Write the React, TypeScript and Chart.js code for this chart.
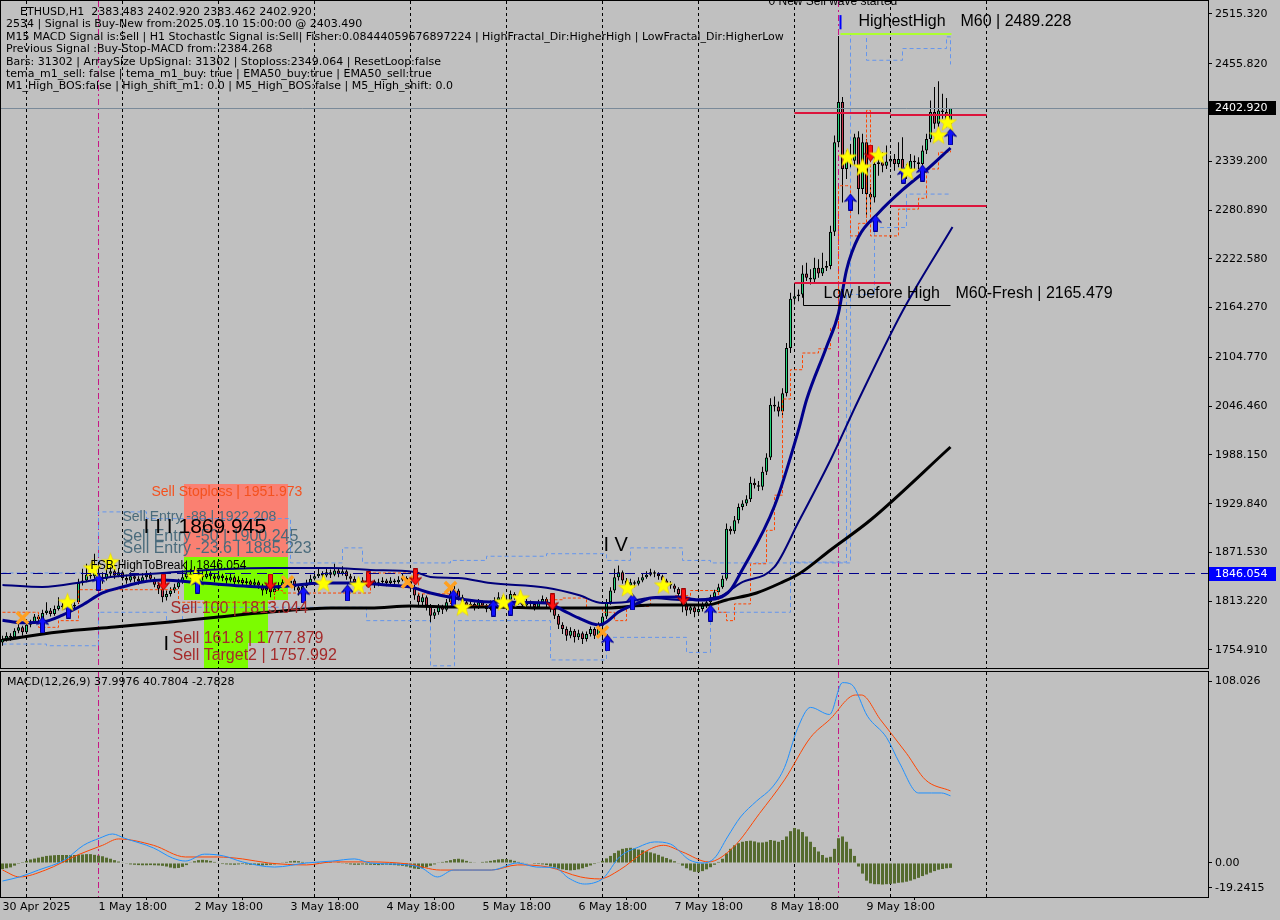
import React, { useEffect, useRef } from 'react';
import { Chart, registerables } from 'chart.js';

Chart.register(...registerables);

// ---------------- axis / tick data ----------------
const xTickIndex = [0, 24, 48, 72, 96, 120, 144, 168, 192, 216];
const xTickLabels = ['30 Apr 2025', '1 May 18:00', '2 May 18:00', '3 May 18:00', '4 May 18:00', '5 May 18:00', '6 May 18:00', '7 May 18:00', '8 May 18:00', '9 May 18:00'];
const priceTicks = [2515.32, 2455.82, 2397.51, 2339.2, 2280.89, 2222.58, 2164.27, 2104.77, 2046.46, 1988.15, 1929.84, 1871.53, 1813.22, 1754.91];
const macdTickValues = [102.93, 0, -14.15];
const macdTickLabels = ['108.026', '0.00', '-19.2415'];
const daySeparators = [6, 30, 54, 78, 102, 126, 150, 174, 198, 222, 246];
const markedBars = [24, 209];

const PRICE_MIN = 1733.38;
const PRICE_MAX = 2530.86;
const MACD_MIN = -19.2415;
const MACD_MAX = 108.026;
const X_MIN = -0.375;
const X_MAX = 301.375;

// ---------------- candles (H1, from 30 Apr 18:00) ----------------
const opens = [
  1764, 1768, 1772, 1770, 1778, 1782, 1776, 1785, 1788, 1795,
  1792, 1799, 1802, 1798, 1804, 1808, 1806, 1810, 1807, 1812,
  1835, 1838, 1845, 1843, 1847, 1842, 1840, 1846, 1849, 1844,
  1848, 1841, 1838, 1843, 1840, 1837, 1842, 1845, 1840, 1833,
  1828, 1818, 1822, 1826, 1830, 1836, 1842, 1846, 1844, 1848,
  1845, 1842, 1846, 1843, 1840, 1844, 1841, 1838, 1842, 1836,
  1839, 1835, 1837, 1833, 1836, 1832, 1826, 1829, 1824, 1828,
  1832, 1836, 1834, 1838, 1830, 1826, 1831, 1835, 1840, 1843,
  1846, 1844, 1848, 1845, 1850, 1846, 1849, 1843, 1840, 1836,
  1834, 1838, 1835, 1837, 1833, 1836, 1838, 1835, 1838, 1836,
  1839, 1841, 1837, 1830, 1820, 1812, 1818, 1808, 1796, 1800,
  1807, 1803, 1812, 1822, 1826, 1818, 1812, 1808, 1810, 1806,
  1812, 1808, 1804, 1810, 1814, 1818, 1812, 1815, 1822, 1818,
  1812, 1808, 1812, 1810, 1806, 1812, 1816, 1810, 1804, 1796,
  1785, 1780, 1772, 1778, 1770, 1775, 1768, 1774, 1780, 1772,
  1784, 1795, 1812, 1826, 1842, 1848, 1838, 1832, 1836, 1834,
  1838, 1842, 1845, 1848, 1846, 1843, 1838, 1834, 1832, 1828,
  1822, 1808, 1802, 1806, 1800, 1804, 1808, 1812, 1818, 1824,
  1830, 1840, 1900, 1897, 1910, 1926, 1930, 1935, 1955, 1952,
  1950, 1968, 1985, 2048, 2046, 2040, 2062, 2116, 2175, 2178,
  2180, 2205, 2200, 2198, 2212, 2205, 2212, 2214, 2255, 2362,
  2410, 2330, 2345, 2340, 2368, 2306, 2362, 2300, 2296, 2336,
  2338, 2334, 2339, 2342, 2336, 2342, 2322, 2330, 2340, 2338,
  2336, 2352, 2366, 2398, 2384, 2400, 2398, 2383.483,
];
const highs = [
  1772, 1776, 1775, 1781, 1786, 1784, 1788, 1791, 1798, 1797,
  1803, 1812, 1805, 1808, 1818, 1811, 1814, 1813, 1812, 1840,
  1852, 1858, 1856, 1870, 1860, 1848, 1852, 1856, 1852, 1853,
  1850, 1845, 1848, 1846, 1843, 1847, 1850, 1848, 1842, 1836,
  1832, 1826, 1830, 1834, 1840, 1850, 1862, 1852, 1855, 1851,
  1849, 1850, 1849, 1846, 1848, 1846, 1844, 1846, 1844, 1843,
  1841, 1841, 1839, 1840, 1838, 1834, 1833, 1831, 1832, 1836,
  1840, 1839, 1842, 1840, 1833, 1835, 1839, 1845, 1849, 1852,
  1849, 1854, 1851, 1858, 1853, 1855, 1851, 1846, 1843, 1839,
  1842, 1840, 1841, 1839, 1840, 1842, 1840, 1842, 1840, 1843,
  1846, 1843, 1839, 1833, 1823, 1822, 1820, 1810, 1804, 1810,
  1809, 1816, 1826, 1832, 1828, 1821, 1815, 1814, 1812, 1816,
  1814, 1810, 1814, 1818, 1824, 1820, 1819, 1826, 1824, 1820,
  1814, 1816, 1814, 1812, 1815, 1820, 1818, 1812, 1806, 1798,
  1788, 1783, 1782, 1780, 1779, 1777, 1777, 1783, 1782, 1788,
  1799, 1816, 1830, 1852, 1856, 1850, 1841, 1840, 1838, 1842,
  1846, 1849, 1852, 1850, 1848, 1845, 1840, 1837, 1834, 1830,
  1825, 1812, 1810, 1808, 1808, 1812, 1815, 1821, 1827, 1834,
  1844, 1906, 1903, 1915, 1930, 1934, 1940, 1962, 1960, 1957,
  1974, 1990, 2056, 2058, 2052, 2068, 2122, 2182, 2190, 2186,
  2215, 2218, 2210, 2224, 2222, 2230, 2220, 2262, 2370, 2489,
  2416, 2352, 2360, 2372, 2375, 2372, 2366, 2312, 2348, 2345,
  2350, 2358, 2346, 2348, 2362, 2368, 2336, 2348, 2346, 2344,
  2358, 2372, 2412, 2428, 2435, 2420, 2415, 2402.92,
];
const lows = [
  1760, 1765, 1766, 1768, 1775, 1772, 1774, 1782, 1786, 1789,
  1790, 1797, 1795, 1796, 1802, 1803, 1804, 1804, 1805, 1810,
  1832, 1836, 1840, 1840, 1838, 1834, 1838, 1843, 1840, 1842,
  1838, 1834, 1836, 1836, 1833, 1835, 1839, 1837, 1830, 1822,
  1812, 1814, 1819, 1823, 1828, 1834, 1840, 1840, 1842, 1840,
  1838, 1840, 1839, 1836, 1838, 1837, 1834, 1836, 1832, 1834,
  1831, 1833, 1829, 1831, 1828, 1820, 1822, 1818, 1821, 1826,
  1830, 1830, 1832, 1826, 1820, 1824, 1829, 1833, 1838, 1841,
  1840, 1842, 1841, 1843, 1842, 1844, 1839, 1836, 1832, 1830,
  1832, 1831, 1833, 1829, 1831, 1834, 1831, 1833, 1832, 1834,
  1837, 1833, 1826, 1815, 1806, 1808, 1802, 1788, 1792, 1797,
  1798, 1801, 1810, 1820, 1814, 1808, 1804, 1806, 1802, 1804,
  1805, 1800, 1802, 1808, 1812, 1809, 1810, 1813, 1815, 1809,
  1804, 1806, 1806, 1802, 1804, 1810, 1806, 1800, 1792, 1780,
  1774, 1766, 1769, 1764, 1767, 1762, 1765, 1771, 1768, 1770,
  1770, 1792, 1809, 1823, 1838, 1834, 1828, 1830, 1830, 1832,
  1836, 1840, 1843, 1842, 1839, 1834, 1830, 1828, 1824, 1816,
  1800, 1796, 1798, 1794, 1797, 1801, 1805, 1809, 1815, 1821,
  1828, 1838, 1893, 1894, 1906, 1922, 1927, 1932, 1948, 1945,
  1946, 1964, 1982, 2040, 2034, 2036, 2058, 2110, 2168, 2172,
  2176, 2196, 2192, 2195, 2200, 2202, 2208, 2210, 2250, 2356,
  2290, 2318, 2332, 2335, 2276, 2300, 2272, 2280, 2290, 2322,
  2326, 2330, 2332, 2328, 2332, 2316, 2318, 2326, 2330, 2330,
  2332, 2348, 2362, 2378, 2380, 2390, 2380, 2383.462,
];
const closes = [
  1768, 1772, 1770, 1778, 1782, 1776, 1785, 1788, 1795, 1792,
  1799, 1802, 1798, 1804, 1808, 1806, 1810, 1807, 1809, 1835,
  1838, 1845, 1843, 1847, 1842, 1840, 1846, 1849, 1844, 1848,
  1841, 1838, 1843, 1840, 1837, 1842, 1845, 1840, 1833, 1828,
  1818, 1822, 1826, 1830, 1836, 1842, 1846, 1844, 1848, 1845,
  1842, 1846, 1843, 1840, 1844, 1841, 1838, 1842, 1836, 1839,
  1835, 1837, 1833, 1836, 1832, 1826, 1829, 1824, 1828, 1832,
  1836, 1834, 1838, 1830, 1826, 1831, 1835, 1840, 1843, 1846,
  1844, 1848, 1845, 1850, 1846, 1849, 1843, 1840, 1836, 1834,
  1838, 1835, 1837, 1833, 1836, 1838, 1835, 1838, 1836, 1839,
  1841, 1837, 1830, 1820, 1812, 1818, 1808, 1796, 1800, 1807,
  1803, 1812, 1822, 1826, 1818, 1812, 1808, 1810, 1806, 1812,
  1808, 1804, 1810, 1814, 1818, 1812, 1815, 1822, 1818, 1812,
  1808, 1812, 1810, 1806, 1812, 1816, 1810, 1804, 1796, 1785,
  1780, 1772, 1778, 1770, 1775, 1768, 1774, 1780, 1772, 1784,
  1795, 1812, 1826, 1842, 1848, 1838, 1832, 1836, 1834, 1838,
  1842, 1845, 1848, 1846, 1843, 1838, 1834, 1832, 1828, 1822,
  1808, 1802, 1806, 1800, 1804, 1808, 1812, 1818, 1824, 1830,
  1840, 1900, 1897, 1910, 1926, 1930, 1935, 1955, 1952, 1950,
  1968, 1985, 2048, 2046, 2040, 2062, 2116, 2175, 2178, 2180,
  2205, 2200, 2198, 2212, 2205, 2212, 2214, 2255, 2362, 2410,
  2330, 2345, 2340, 2368, 2306, 2362, 2300, 2296, 2336, 2338,
  2334, 2339, 2342, 2336, 2342, 2322, 2330, 2340, 2338, 2336,
  2352, 2366, 2398, 2384, 2400, 2398, 2383.5, 2402.92,
];

// ---------------- overlay indicator lines [bar index, price] ----------------
const emaFast = [
  [0, 1790.5], [5, 1787.5], [10, 1788.4], [15, 1796.7], [20, 1808.7], [25, 1823.1], [30, 1830.2], [35, 1836.2],
  [40, 1838.6], [50, 1835], [67, 1830.2], [80, 1835], [88, 1835], [96, 1832.6], [102, 1830.2], [107, 1823.1],
  [113, 1817.1], [122, 1812.3], [136, 1811.1], [140, 1802.7], [144, 1793.2], [149, 1784.8], [151, 1788.4],
  [154, 1800.3], [159, 1811.1], [162, 1817.1], [169, 1818.3], [174, 1814.7], [179, 1817.1], [182, 1826.7],
  [184.5, 1847], [193, 1927.1], [199, 2018], [201, 2053.8], [206, 2117.2], [209, 2157.8], [211, 2209.2],
  [214, 2248.7], [219, 2277.4], [225, 2304.9], [231, 2328.8], [237, 2355.1],
];
const emaMid = [
  [0, 1832.6], [10, 1830.2], [20, 1836.2], [27, 1842.2], [40, 1847], [56, 1851.8], [67, 1853], [82, 1853],
  [92, 1850.6], [103, 1848.2], [107, 1842.2], [114, 1841], [122, 1835], [136, 1829.4], [144, 1820.7],
  [150, 1811.1], [156, 1812.3], [162, 1817.1], [170, 1814.7], [179, 1818.3], [184.5, 1835], [193, 1854.2],
  [199, 1907.9], [207, 1982.1], [214, 2053.8], [225, 2160], [237.5, 2260.7],
];
const maSlow = [
  [0, 1766.9], [14, 1776.4], [28, 1782.4], [42, 1788.4], [54, 1794.4], [67, 1800.3], [82, 1805.1], [92, 1805.1],
  [102, 1807.5], [113, 1806.3], [122, 1806.3], [136, 1805.1], [151, 1805.1], [162, 1808.7], [176, 1808.7],
  [181, 1814.7], [188.5, 1823.1], [194.5, 1835], [199.5, 1847], [207, 1874.5], [217, 1910.3], [237, 1997.6],
];
const orangeTrail = [
  [0, 1800], [8, 1800], [9, 1782], [14, 1790], [19, 1827], [40, 1827], [44, 1812], [68, 1826], [70, 1823],
  [92, 1847], [100, 1847], [104, 1822], [112, 1808], [122, 1812], [132, 1812], [136, 1815], [140, 1817],
  [146, 1805], [150, 1800], [153, 1790], [156, 1807], [162, 1818], [168, 1820], [172, 1826], [178, 1826],
  [179, 1800], [181, 1790], [183, 1810], [187, 1858], [191, 1898], [193, 1940], [195, 2055], [197, 2090],
  [200, 2110], [204, 2115], [207, 2140], [209, 2310], [211, 2310], [212, 2250], [214, 2265], [216, 2400],
  [217, 2250], [222, 2250], [224, 2282], [229, 2295], [231, 2330], [234, 2350], [237, 2352],
];
const channelUpper = [
  [0, 1847], [24, 1920], [36, 1912], [72, 1859], [85, 1877], [90, 1859], [112, 1862], [121, 1867], [136, 1870],
  [151, 1862], [157, 1877], [170, 1862], [177, 1859], [212, 2491], [216, 2460], [225, 2474], [236, 2488], [237, 2455],
];
const channelLower = [
  [0, 1762], [11, 1760], [24, 1800], [41, 1790], [45, 1806], [91, 1790], [107, 1736], [113, 1790], [137, 1743],
  [151, 1770], [171, 1752], [177, 1800], [197, 1860], [211, 2180], [218, 2260], [226, 2300], [237, 2300],
];

// ---------------- signal markers [bar index, price] ----------------
const starSignals = [
  [16.25, 1812.3], [22.5, 1853], [27, 1860.2], [48.25, 1842.2], [80.25, 1835], [89, 1832.6], [115, 1806.3],
  [125.25, 1812.3], [129.5, 1817.1], [156.25, 1829.4], [165.25, 1832.6], [211.25, 2344.3], [215, 2332.4],
  [219, 2346.7], [226.25, 2327.6], [234, 2370.6], [236.25, 2386.2],
];
const buyArrows = [
  [10, 1784.8], [16.5, 1802.7], [24, 1836.2], [48.75, 1832.6], [75.25, 1820.7], [86.25, 1823.1], [112.75, 1817.1],
  [122.75, 1805.1], [127, 1806.3], [151.25, 1763.3], [157.5, 1812.3], [177, 1799.1], [212, 2290.5], [218.25, 2265.4],
  [225.25, 2322.8], [230, 2325.2], [237, 2368.3],
];
const sellArrows = [
  [40.25, 1836.2], [67, 1836.2], [91.5, 1838.6], [103.25, 1842.2], [137.5, 1812.3], [170.25, 1818.3], [217, 2349.1],
];
const crossSignals = [[5, 1793.2], [71.25, 1836.2], [101.25, 1836.2], [112, 1829.4], [150, 1776.4]];

// ---------------- zones / levels ----------------
const zones = [
  { i0: 45.25, i1: 71.25, p0: 1953.5, p1: 1866, color: '#FA8072' },
  { i0: 45.25, i1: 71.25, p0: 1866, p1: 1814.7, color: '#7CFC00' },
  { i0: 50.25, i1: 66.25, p0: 1814.7, p1: 1763.3, color: '#7CFC00' },
  { i0: 50.25, i1: 61.25, p0: 1763.3, p1: 1733.38, color: '#7CFC00' },
];
const redLevels = [
  [198, 222, 2397.0], [222, 246, 2394.6], [222, 246, 2285.9], [198, 222, 2193.7],
];
const highestHighLine = [209.5, 237.25, 2491.4];
const lowBeforeHigh = [200.25, 237, 2166.2, 2181.7];
const currentPrice = 2402.92;
const breakLevel = 1846.054;

const infoLines = [
  'ETHUSD,H1  2383.483 2402.920 2383.462 2402.920',
  '2534 | Signal is Buy-New from:2025.05.10 15:00:00 @ 2403.490',
  'M15 MACD Signal is:Sell | H1 Stochastic Signal is:Sell| Fisher:0.08444059676897224 | HighFractal_Dir:HigherHigh | LowFractal_Dir:HigherLow',
  'Previous Signal :Buy-Stop-MACD from: 2384.268',
  'Bars: 31302 | ArraySize UpSignal: 31302 | Stoploss:2349.064 | ResetLoop:false',
  'tema_m1_sell: false | tema_m1_buy: true | EMA50_buy:true | EMA50_sell:true',
  'M1_High_BOS:false | High_shift_m1: 0.0 | M5_High_BOS:false | M5_High_shift: 0.0',
];

const annotations = [
  { text: '0 New Sell wave started', i: 191.5, p: 2530.5, size: 12, color: '#000000' },
  { text: 'HighestHigh', i: 214, p: 2505.8, size: 16, color: '#000000' },
  { text: 'M60 | 2489.228', i: 239.5, p: 2505.8, size: 16, color: '#000000' },
  { text: 'Low before High', i: 205.25, p: 2180.5, size: 16, color: '#000000' },
  { text: 'M60-Fresh | 2165.479', i: 238.25, p: 2180.5, size: 16, color: '#000000' },
  { text: 'Sell Stoploss | 1951.973', i: 37.25, p: 1943.8, size: 14, color: '#F4511E' },
  { text: 'Sell Entry -88 | 1922.208', i: 30, p: 1913.9, size: 14, color: '#4A6B7C' },
  { text: 'Sell Entry -50 | 1900.245', i: 30, p: 1890.0, size: 16, color: '#4A6B7C' },
  { text: 'Sell Entry -23.6 | 1885.223', i: 30, p: 1875.7, size: 16, color: '#4A6B7C' },
  { text: 'I I I 1869.945', i: 35.25, p: 1902.0, size: 21, color: '#000000' },
  { text: 'FSB-HighToBreak | 1846.054', i: 22, p: 1855.3, size: 12, color: '#000000' },
  { text: 'Sell 100 | 1813.044', i: 42, p: 1803.9, size: 16, color: '#A52A2A' },
  { text: 'Sell 161.8 | 1777.879', i: 42.5, p: 1768.1, size: 16, color: '#A52A2A' },
  { text: 'Sell Target2 | 1757.992', i: 42.5, p: 1747.7, size: 16, color: '#A52A2A' },
  { text: 'I', i: 40.25, p: 1760.9, size: 20, color: '#000000' },
  { text: 'I V', i: 150.25, p: 1879.3, size: 20, color: '#000000' },
];

// ---------------- MACD(12,26,9) ----------------
const macdHist = [
  -3.5, -3, -2.5, -1.5, -0.5, 0.5, 1.2, 2, 2.5, 3,
  3.5, 4, 4.2, 4.4, 4.5, 4.5, 4.5, 4.4, 4.5, 4.6,
  4.8, 5, 5, 4.6, 4.2, 3.8, 3, 2.4, 1.6, 0.8,
  0.2, -0.4, -0.8, -1, -1.2, -1.3, -1.3, -1.2, -1.3, -1.4,
  -1.6, -2, -2.6, -3, -2.8, -2.2, -1.2, 0.2, 1, 1.6,
  1.8, 1.6, 1.2, 0.6, -0.2, -0.6, -0.8, -0.9, -1, -0.8,
  -0.6, -0.8, -1, -1.1, -1.2, -1.4, -1.2, -1, -0.8, -0.4,
  0.2, 0.6, 1, 1.2, 1, 0.6, 0.4, 0.3, 0.2, 0.1,
  0.2, 0.4, 0.5, 0.3, 0.1, -0.2, -0.5, -0.8, -1, -1,
  -0.8, -0.9, -1, -1.1, -1.2, -1, -0.9, -1.1, -1.2, -1.4,
  -1.6, -2, -2.6, -3.2, -3.4, -3, -2.4, -1.6, -0.8, 0.2,
  0.6, 1, 1.6, 2.2, 2.4, 2, 1.2, 0.6, 0.2, 0.3,
  0.6, 0.8, 1.2, 1.6, 2, 2.2, 2.2, 1.8, 1.2, 0.6,
  0.2, -0.2, -0.3, -0.5, -0.6, -0.8, -1.2, -2, -2.6, -3.2,
  -3.6, -4, -4.2, -4, -3.6, -3, -2.2, -1.4, -0.6, 0.2,
  1.2, 2.6, 4, 5.6, 7, 8, 8.4, 8.6, 8.2, 7.6,
  7.2, 6.6, 6, 5.4, 4.6, 3.6, 2.8, 2, 1, -0.2,
  -1.5, -3, -4.2, -5, -5.2, -4.6, -3.6, -2.4, -1, 0.6,
  2.4, 5.4, 8, 10, 11.2, 12, 12.4, 12.6, 12.2, 11.6,
  11.6, 12, 13, 12.6, 12, 13, 15, 18, 19.8, 19,
  17.5, 15, 12, 9, 6.5, 4.5, 3, 3.5, 8, 14,
  15, 12, 8, 4, -2, -6, -10, -11.5, -12, -12,
  -12.2, -12, -11.8, -11.6, -11.2, -11, -10.6, -10, -9.2, -8.4,
  -7.4, -6.5, -5.5, -4.6, -3.8, -3.4, -3, -2.78,
];
const macdMain = [
  [0, -10.2], [4.25, -7.9], [9, -4], [15.5, 1.7], [20.25, 10], [24.25, 14], [27.5, 16.4], [30.5, 14],
  [37.75, 8.5], [42.5, 2.8], [45.75, 1.1], [50.5, 5], [55.25, 4], [60, 0.6], [68, -2.3], [76, 0],
  [82.5, 1.1], [88, 2.3], [92, 0], [101.5, -1.1], [104.75, -2.8], [108.75, -7.9], [112.75, -4], [117.5, -4],
  [122.25, -4], [128.75, 0], [133.5, -2.3], [138.25, -2.8], [141.5, -8.5], [145.5, -11.9], [147.75, -11.3],
  [150.25, -8.5], [154.25, 3.4], [159, 9], [163, 11.9], [167, 10.7], [171.75, 1.7], [175, 0], [178, 2.8],
  [181.25, 14.7], [184.5, 26], [188.5, 35], [192.5, 43], [195.5, 54], [198.75, 76], [202, 88], [206.75, 84],
  [210, 102], [212.25, 101], [216.25, 83], [221, 71], [224.25, 56.6], [229, 39.6], [232.25, 39.6],
  [234.75, 39.6], [237, 38.0],
];
const macdSignal = [
  [0, -4], [4.25, -7.9], [10.75, -4], [18.75, 4.5], [25, 10], [29, 13.6], [37.75, 10], [45.75, 3.4],
  [53.75, 3.4], [60, 2.3], [66.5, 0], [76, -1.1], [82.5, 0.6], [92, 0.6], [101.5, -0.6], [109.5, -4],
  [114.25, -4], [122.25, -4], [128.75, -1.1], [136.5, -2.3], [144.5, -7.9], [149.25, -9], [154.25, -4],
  [160.5, 6.2], [165.25, 10], [170, 6.2], [176.5, 0.6], [182.75, 9], [189.25, 28], [195.5, 47], [202, 71],
  [206.75, 81], [213.25, 95], [214.75, 95], [219.5, 81], [226, 62], [230.75, 47], [237, 40.78],
];
const macdInfo = 'MACD(12,26,9) 37.9976 40.7804 -2.7828';

// ---------------- helpers ----------------
const SANS = '"Liberation Sans", Arial, sans-serif';
const AXIS_FONT = '"DejaVu Sans", sans-serif';
const toXY = (arr: number[][]) => arr.map(([x, y]) => ({ x, y }));
const noPad = (s: any) => { s.paddingTop = 0; s.paddingBottom = 0; s.paddingLeft = 0; s.paddingRight = 0; };

function makeStar(size: number) {
  const c = document.createElement('canvas');
  c.width = size; c.height = size;
  const g = c.getContext('2d')!;
  const cx = size / 2, cy = size / 2 + 0.8, R = size / 2, r = R * 0.42;
  g.beginPath();
  for (let k = 0; k < 10; k++) {
    const a = -Math.PI / 2 + (k * Math.PI) / 5;
    const rad = k % 2 === 0 ? R : r;
    g.lineTo(cx + rad * Math.cos(a), cy + rad * Math.sin(a));
  }
  g.closePath();
  g.fillStyle = '#FFFF00';
  g.fill();
  g.strokeStyle = '#E8D000';
  g.lineWidth = 0.6;
  g.stroke();
  return c;
}

function makeArrow(fill: string, edge: string, up: boolean) {
  const w = 13, h = 17;
  const c = document.createElement('canvas');
  c.width = w; c.height = h;
  const g = c.getContext('2d')!;
  if (!up) { g.translate(0, h); g.scale(1, -1); }
  g.beginPath();
  g.moveTo(6.5, 0.5); g.lineTo(12.5, 8); g.lineTo(8.5, 6.5); g.lineTo(8.5, 16.5);
  g.lineTo(4.5, 16.5); g.lineTo(4.5, 6.5); g.lineTo(0.5, 8); g.closePath();
  g.fillStyle = fill; g.fill();
  g.strokeStyle = edge; g.lineWidth = 1; g.stroke();
  return c;
}

const framePlugin = {
  id: 'frame',
  afterDraw(chart: any) {
    const { ctx, chartArea: a } = chart;
    ctx.save();
    ctx.strokeStyle = '#000';
    ctx.lineWidth = 1;
    ctx.strokeRect(a.left - 0.5, a.top - 0.5, a.right - a.left + 1, a.bottom - a.top + 1);
    ctx.restore();
  },
};

const separatorPlugin = {
  id: 'separators',
  beforeDatasetsDraw(chart: any) {
    const { ctx, chartArea: a, scales } = chart;
    const x = scales.x;
    ctx.save();
    ctx.lineWidth = 1;
    ctx.strokeStyle = '#000';
    ctx.setLineDash([3, 3]);
    for (const i of daySeparators) {
      const px = Math.floor(x.getPixelForValue(i)) + 0.5;
      if (px > a.right) continue;
      ctx.beginPath(); ctx.moveTo(px, a.top); ctx.lineTo(px, a.bottom); ctx.stroke();
    }
    ctx.strokeStyle = '#C71585';
    ctx.setLineDash([6, 3, 2, 3]);
    for (const i of markedBars) {
      const px = Math.floor(x.getPixelForValue(i)) + 0.5;
      ctx.beginPath(); ctx.moveTo(px, a.top); ctx.lineTo(px, a.bottom); ctx.stroke();
    }
    ctx.restore();
  },
};

const zonePlugin = {
  id: 'zones',
  beforeDatasetsDraw(chart: any) {
    const { ctx, scales: { x, y } } = chart;
    ctx.save();
    for (const z of zones) {
      const x0 = Math.round(x.getPixelForValue(z.i0));
      const x1 = Math.round(x.getPixelForValue(z.i1));
      const y0 = Math.round(y.getPixelForValue(z.p0));
      const y1 = Math.round(y.getPixelForValue(z.p1));
      ctx.fillStyle = z.color;
      ctx.fillRect(x0, y0, x1 - x0, y1 - y0);
    }
    ctx.restore();
  },
};

const overlayPlugin = {
  id: 'overlay',
  afterDatasetsDraw(chart: any) {
    const { ctx, chartArea: a, scales: { x, y } } = chart;
    const X = (v: number) => x.getPixelForValue(v);
    const Y = (v: number) => y.getPixelForValue(v);
    ctx.save();
    ctx.strokeStyle = '#7A8A99';
    ctx.lineWidth = 1;
    let py = Math.floor(Y(currentPrice)) + 0.5;
    ctx.beginPath(); ctx.moveTo(a.left, py); ctx.lineTo(a.right, py); ctx.stroke();
    ctx.strokeStyle = '#00008B';
    ctx.setLineDash([10, 6]);
    py = Math.floor(Y(breakLevel)) + 0.5;
    ctx.beginPath(); ctx.moveTo(a.left, py); ctx.lineTo(a.right, py); ctx.stroke();
    ctx.setLineDash([]);
    ctx.strokeStyle = '#DC143C';
    ctx.lineWidth = 2;
    for (const [i0, i1, p] of redLevels) {
      const yy = Math.round(Y(p));
      ctx.beginPath(); ctx.moveTo(X(i0), yy); ctx.lineTo(X(i1), yy); ctx.stroke();
    }
    ctx.strokeStyle = '#ADFF2F';
    const hy = Math.round(Y(highestHighLine[2]));
    ctx.beginPath(); ctx.moveTo(X(highestHighLine[0]), hy); ctx.lineTo(X(highestHighLine[1]), hy); ctx.stroke();
    ctx.strokeStyle = '#0000FF';
    ctx.beginPath(); ctx.moveTo(X(highestHighLine[0]), Y(2514)); ctx.lineTo(X(highestHighLine[0]), Y(2497)); ctx.stroke();
    ctx.strokeStyle = '#000';
    ctx.lineWidth = 1;
    const ly = Math.floor(Y(lowBeforeHigh[2])) + 0.5;
    const lx = Math.floor(X(lowBeforeHigh[0])) + 0.5;
    ctx.beginPath(); ctx.moveTo(lx, Y(lowBeforeHigh[3])); ctx.lineTo(lx, ly); ctx.lineTo(X(lowBeforeHigh[1]), ly); ctx.stroke();
    ctx.textAlign = 'left';
    ctx.textBaseline = 'middle';
    for (const t of annotations) {
      ctx.font = `${t.size}px ${SANS}`;
      ctx.fillStyle = t.color;
      ctx.fillText(t.text, X(t.i), Y(t.p));
    }
    ctx.restore();
  },
  afterDraw(chart: any) {
    const { ctx, scales: { y } } = chart;
    ctx.save();
    ctx.textAlign = 'left';
    ctx.textBaseline = 'middle';
    ctx.font = `11px ${AXIS_FONT}`;
    ctx.fillStyle = '#000';
    const rows = [12, 24, 37, 49, 62, 74, 86];
    infoLines.forEach((ln, k) => ctx.fillText(ln, k === 0 ? 20 : 6, rows[k]));
    const tag = (v: number, bg: string) => {
      const yy = Math.round(y.getPixelForValue(v));
      ctx.fillStyle = bg;
      ctx.fillRect(1209, yy - 7, 67, 14);
      ctx.fillStyle = '#FFFFFF';
      ctx.font = `11px ${AXIS_FONT}`;
      ctx.fillText(v.toFixed(3), 1215, yy);
    };
    tag(currentPrice, '#000000');
    tag(breakLevel, '#0000FF');
    ctx.restore();
  },
};

const macdLabelPlugin = {
  id: 'macdLabel',
  afterDraw(chart: any) {
    const { ctx, chartArea: a } = chart;
    ctx.save();
    ctx.font = `11px ${AXIS_FONT}`;
    ctx.fillStyle = '#000';
    ctx.textBaseline = 'middle';
    ctx.fillText(macdInfo, 7, a.top + 10);
    ctx.restore();
  },
};

export default function App() {
  const mainRef = useRef<HTMLCanvasElement>(null);
  const macdRef = useRef<HTMLCanvasElement>(null);

  useEffect(() => {
    const star = makeStar(19);
    const upArrow = makeArrow('#1010FF', '#00008B', true);
    const downArrow = makeArrow('#FF1010', '#A00000', false);
    const bodyColors = closes.map((c, i) => (c >= opens[i] ? '#22D47A' : '#C8384F'));

    const markerSet = (data: number[][], style: any, order: number, extra: any = {}) => ({
      type: 'line',
      data: toXY(data),
      showLine: false,
      pointStyle: style,
      pointRadius: 7,
      order,
      ...extra,
    });

    const main = new Chart(mainRef.current!, {
      type: 'bar',
      data: {
        datasets: [
          { type: 'line', data: toXY(channelUpper), borderColor: '#6495ED', borderWidth: 1, borderDash: [4, 3], stepped: true, pointRadius: 0, order: 50 },
          { type: 'line', data: toXY(channelLower), borderColor: '#6495ED', borderWidth: 1, borderDash: [4, 3], stepped: true, pointRadius: 0, order: 49 },
          { type: 'bar', data: lows.map((l, i) => ({ x: i, y: [l, highs[i]] })), backgroundColor: '#000', borderWidth: 0, barThickness: 1, grouped: false, inflateAmount: 0, order: 40 },
          { type: 'bar', data: opens.map((o, i) => ({ x: i, y: [o, closes[i]] })), backgroundColor: bodyColors, borderColor: '#000', borderWidth: 1, borderSkipped: false, barThickness: 3, grouped: false, inflateAmount: 0, order: 39 },
          { type: 'line', data: toXY(orangeTrail), borderColor: '#FF4500', borderWidth: 1, borderDash: [3, 2], stepped: true, pointRadius: 0, order: 30 },
          { type: 'line', data: toXY(maSlow), borderColor: '#000000', borderWidth: 3, pointRadius: 0, cubicInterpolationMode: 'monotone', order: 22 },
          { type: 'line', data: toXY(emaMid), borderColor: '#00007A', borderWidth: 2, pointRadius: 0, cubicInterpolationMode: 'monotone', order: 21 },
          { type: 'line', data: toXY(emaFast), borderColor: '#00008B', borderWidth: 3, pointRadius: 0, cubicInterpolationMode: 'monotone', order: 20 },
          markerSet(crossSignals, 'crossRot', 5, { borderColor: '#FFA020', borderWidth: 3.5, pointRadius: 8 }),
          markerSet(sellArrows, downArrow, 4),
          markerSet(buyArrows, upArrow, 3),
          markerSet(starSignals, star, 2),
        ] as any,
      },
      options: {
        responsive: false,
        animation: false,
        devicePixelRatio: 1,
        events: [],
        layout: { autoPadding: false, padding: { left: 1, top: 1, right: 0, bottom: 2 } },
        plugins: { legend: { display: false }, tooltip: { enabled: false } },
        scales: {
          x: { type: 'linear', min: X_MIN, max: X_MAX, offset: false, display: false, grid: { display: false } },
          y: {
            type: 'linear',
            position: 'right',
            min: PRICE_MIN,
            max: PRICE_MAX,
            afterBuildTicks: (s: any) => { s.ticks = priceTicks.map((v) => ({ value: v })); },
            afterFit: (s: any) => { s.width = 72; noPad(s); },
            ticks: { color: '#000', font: { family: AXIS_FONT, size: 11 }, padding: 3, autoSkip: false, callback: (v: any) => Number(v).toFixed(3) },
            grid: { drawOnChartArea: false, color: '#000', tickLength: 4 },
            border: { color: '#000' },
          },
        },
      } as any,
      plugins: [zonePlugin, separatorPlugin, overlayPlugin, framePlugin],
    });

    const macd = new Chart(macdRef.current!, {
      type: 'bar',
      data: {
        datasets: [
          { type: 'bar', data: macdHist.map((v, i) => ({ x: i, y: v })), backgroundColor: '#556B2F', borderWidth: 0, barThickness: 3, grouped: false, inflateAmount: 0, order: 3 },
          { type: 'line', data: toXY(macdSignal), borderColor: '#FF4500', borderWidth: 1, pointRadius: 0, cubicInterpolationMode: 'monotone', order: 2 },
          { type: 'line', data: toXY(macdMain), borderColor: '#1E90FF', borderWidth: 1, pointRadius: 0, cubicInterpolationMode: 'monotone', order: 1 },
        ] as any,
      },
      options: {
        responsive: false,
        animation: false,
        devicePixelRatio: 1,
        events: [],
        layout: { autoPadding: false, padding: { left: 1, top: 2, right: 0, bottom: 0 } },
        plugins: { legend: { display: false }, tooltip: { enabled: false } },
        scales: {
          x: {
            type: 'linear', min: X_MIN, max: X_MAX, offset: false,
            afterBuildTicks: (s: any) => { s.ticks = xTickIndex.map((v) => ({ value: v })); },
            afterFit: (s: any) => { s.height = 23; noPad(s); },
            ticks: { align: 'start', autoSkip: false, maxRotation: 0, color: '#000', font: { family: AXIS_FONT, size: 11 }, padding: 1, callback: (_v: any, idx: number) => xTickLabels[idx] },
            grid: { drawOnChartArea: false, color: '#000', tickLength: 3 },
            border: { color: '#000' },
          },
          y: {
            type: 'linear', position: 'right', min: MACD_MIN, max: MACD_MAX,
            afterBuildTicks: (s: any) => { s.ticks = macdTickValues.map((v) => ({ value: v })); },
            afterFit: (s: any) => { s.width = 72; noPad(s); },
            ticks: { color: '#000', font: { family: AXIS_FONT, size: 11 }, padding: 3, autoSkip: false, callback: (_v: any, idx: number) => macdTickLabels[idx] },
            grid: { drawOnChartArea: false, color: '#000', tickLength: 4 },
            border: { color: '#000' },
          },
        },
      } as any,
      plugins: [separatorPlugin, macdLabelPlugin, framePlugin],
    });

    return () => { main.destroy(); macd.destroy(); };
  }, []);

  return (
    <div style={{ position: 'fixed', left: 0, top: 0, width: 1280, height: 920, background: '#C0C0C0', overflow: 'hidden' }}>
      <canvas ref={mainRef} width={1280} height={670} style={{ position: 'absolute', left: 0, top: 0 }} />
      <canvas ref={macdRef} width={1280} height={250} style={{ position: 'absolute', left: 0, top: 670 }} />
    </div>
  );
}
